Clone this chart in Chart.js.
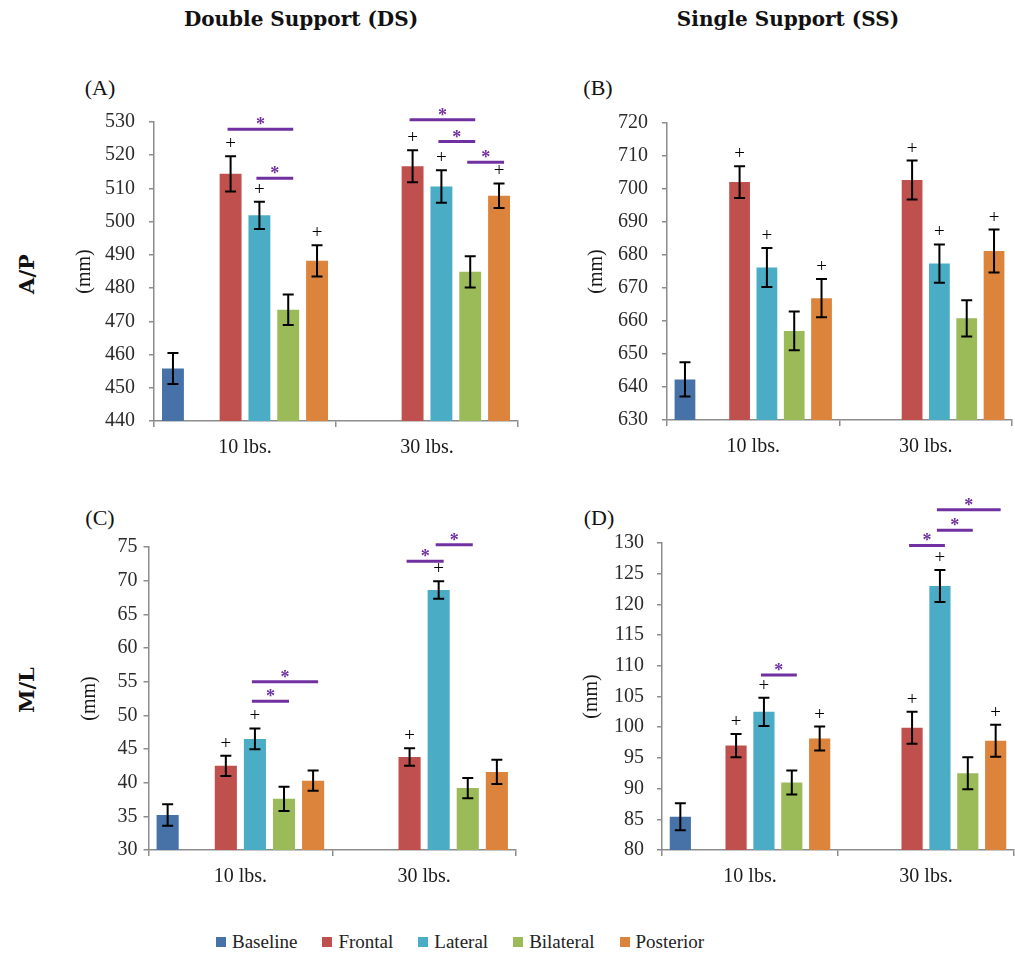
<!DOCTYPE html>
<html>
<head>
<meta charset="utf-8">
<script src="https://cdn.jsdelivr.net/npm/chart.js@4.4.0/dist/chart.umd.min.js"></script>
<style>
  body { margin: 0; background: #fff; width: 1015px; height: 954px; position: relative; overflow: hidden; }
  canvas { position: absolute; }
  .lbl { position: absolute; transform: translate(-50%, -50%); white-space: nowrap; color: #111; }
  .title { font: bold 20px "DejaVu Serif", serif; }
  .row { font: bold 21px "DejaVu Serif", serif; transform: translate(-50%, -50%) rotate(-90deg); }
  .panel { font: 22px "Liberation Serif", serif; }
  #legend { position: absolute; left: 216px; top: 931px; display: flex; align-items: center; gap: 25px;
            font: 19px "Liberation Serif", serif; color: #222; }
  #legend span { display: flex; align-items: center; gap: 6px; }
  #legend i { display: inline-block; width: 10px; height: 10px; }
</style>
</head>
<body>
<div class="lbl title" style="left:301px;top:19px">Double Support (DS)</div>
<div class="lbl title" style="left:788px;top:19px">Single Support (SS)</div>
<div class="lbl row" style="left:26px;top:274px">A/P</div>
<div class="lbl row" style="left:26px;top:690px">M/L</div>
<div class="lbl panel" style="left:100px;top:88px">(A)</div>
<div class="lbl panel" style="left:598px;top:88px">(B)</div>
<div class="lbl panel" style="left:100px;top:518px">(C)</div>
<div class="lbl panel" style="left:599px;top:518px">(D)</div>

<canvas id="chartA"></canvas>
<canvas id="chartB"></canvas>
<canvas id="chartC"></canvas>
<canvas id="chartD"></canvas>
<div id="legend"></div>

<script>
// Данные: для каждой серии [10 lbs., 30 lbs.]
const categories = ['10 lbs.', '30 lbs.'];
const seriesNames = ['Baseline', 'Frontal', 'Lateral', 'Bilateral', 'Posterior'];
const seriesColors = ['#4672A8', '#C0504D', '#4BACC6', '#9BBB59', '#DD843C'];

// (A) DS, A/P
const dsApMeans = [[455.8, null], [514.4, 516.7], [501.9, 510.6], [473.5, 484.9], [488.2, 507.8]];
const dsApErrors = [[4.7, null], [5.3, 4.8], [4.1, 4.9], [4.6, 4.7], [4.7, 3.7]];
const dsApPlus = [[0, 1], [0, 2], [0, 4], [1, 1], [1, 2], [1, 4]];
const dsApStars = [[0, 1, 3, 527.8], [0, 2, 3, 513.1], [1, 1, 3, 530.7], [1, 2, 3, 524.1], [1, 3, 4, 517.9]];

// (B) SS, A/P
const ssApMeans = [[642.3, null], [702.1, 702.7], [676.2, 677.4], [657.0, 660.8], [666.9, 681.2]];
const ssApErrors = [[5.2, null], [4.8, 5.9], [5.9, 5.8], [5.9, 5.5], [5.8, 6.5]];
const ssApPlus = [[0, 1], [0, 2], [0, 4], [1, 1], [1, 2], [1, 4]];
const ssApStars = [];

// (C) DS, M/L
const dsMlMeans = [[35.2, null], [42.5, 43.8], [46.5, 68.6], [37.6, 39.2], [40.3, 41.6]];
const dsMlErrors = [[1.6, null], [1.5, 1.3], [1.55, 1.3], [1.8, 1.5], [1.5, 1.8]];
const dsMlPlus = [[0, 1], [0, 2], [1, 1], [1, 2]];
const dsMlStars = [[0, 2, 4, 55.0], [0, 2, 3, 52.1], [1, 1, 2, 72.9], [1, 2, 3, 75.35]];

// (D) SS, M/L
const ssMlMeans = [[85.4, null], [97.0, 99.9], [102.5, 123.0], [91.0, 92.5], [98.15, 97.8]];
const ssMlErrors = [[2.2, null], [1.9, 2.6], [2.3, 2.6], [1.95, 2.6], [1.95, 2.6]];
const ssMlPlus = [[0, 1], [0, 2], [0, 4], [1, 1], [1, 2], [1, 4]];
const ssMlStars = [[0, 2, 3, 108.5], [1, 1, 2, 129.6], [1, 2, 3, 132.06], [1, 2, 4, 135.4]];

const SERIF = '"Liberation Serif", serif';
const AXIS_COLOR = '#8c8c8c';
const STAR_COLOR = '#7030A0';

// серия -> индекс датасета (после Baseline стоит пустой датасет-разделитель)
const dsIndex = s => (s === 0 ? 0 : s + 1);

function marksPlugin(p) {
    return {
        id: 'marks',
        afterDatasetsDraw(chart) {
            const ctx = chart.ctx;
            const y = chart.scales.y;
            const barX = (c, s) => chart.getDatasetMeta(dsIndex(s)).data[c].x;
            ctx.save();

            // Error bars
            ctx.strokeStyle = '#000';
            ctx.lineWidth = 2;
            p.means.forEach((row, s) => {
                row.forEach((v, c) => {
                    if (v === null) return;
                    const x = barX(c, s);
                    const hi = y.getPixelForValue(v + p.errors[s][c]);
                    const lo = y.getPixelForValue(v - p.errors[s][c]);
                    ctx.beginPath();
                    ctx.moveTo(x, hi); ctx.lineTo(x, lo);
                    ctx.moveTo(x - 5.5, hi); ctx.lineTo(x + 5.5, hi);
                    ctx.moveTo(x - 5.5, lo); ctx.lineTo(x + 5.5, lo);
                    ctx.stroke();
                });
            });

            // "+" над столбцами
            ctx.fillStyle = '#000';
            ctx.font = '19px ' + SERIF;
            ctx.textAlign = 'center';
            ctx.textBaseline = 'middle';
            p.plus.forEach(([c, s]) => {
                const top = y.getPixelForValue(p.means[s][c] + p.errors[s][c]);
                ctx.fillText('+', barX(c, s), top - 12);
            });

            // Significance lines with stars
            ctx.strokeStyle = STAR_COLOR;
            ctx.fillStyle = STAR_COLOR;
            ctx.lineWidth = 3;
            ctx.font = 'bold 18px ' + SERIF;
            ctx.textBaseline = 'alphabetic';
            p.stars.forEach(([c, a, b, level]) => {
                const x0 = barX(c, a) - 3;
                const x1 = barX(c, b) + 5;
                const ly = y.getPixelForValue(level);
                ctx.beginPath();
                ctx.moveTo(x0, ly); ctx.lineTo(x1, ly);
                ctx.stroke();
                ctx.fillText('*', (x0 + x1) / 2, ly + 1);
            });
            ctx.restore();
        }
    };
}

function createPanel(canvasId, p, box) {
    const PL = 2, PR = 1, PT = 60, XH = 45, PB = 4;
    const yw = box.titleGap + 16;
    const cx = box.left - yw - PL;
    const cy = box.top - PT;
    const cw = box.right + PR - cx;
    const ch = box.bottom + XH + PB - cy;

    const canvas = document.getElementById(canvasId);
    canvas.width = cw;
    canvas.height = ch;
    canvas.style.left = cx + 'px';
    canvas.style.top = cy + 'px';

    const datasets = [];
    p.means.forEach((row, s) => {
        datasets.push({ label: seriesNames[s], data: row, backgroundColor: seriesColors[s] });
        if (s === 0) datasets.push({ label: '', data: [null, null], backgroundColor: 'rgba(0,0,0,0)' });
    });

    return new Chart(canvas, {
        type: 'bar',
        data: { labels: categories, datasets },
        options: {
            responsive: false,
            animation: false,
            events: [],
            barPercentage: 0.76,
            categoryPercentage: 0.95,
            layout: { padding: { left: PL, right: PR, top: PT, bottom: PB } },
            plugins: { legend: { display: false }, tooltip: { enabled: false } },
            scales: {
                x: {
                    grid: { drawOnChartArea: false, drawTicks: true, tickLength: 6, color: AXIS_COLOR, lineWidth: 1.5 },
                    border: { color: AXIS_COLOR, width: 1.5 },
                    ticks: { font: { family: SERIF, size: 20 }, color: '#1a1a1a', padding: 9 },
                    afterFit: s => { s.height = XH; }
                },
                y: {
                    min: p.min, max: p.max,
                    grid: { drawOnChartArea: false, drawTicks: true, tickLength: 5, color: AXIS_COLOR, lineWidth: 1.5 },
                    border: { color: AXIS_COLOR, width: 1.5 },
                    ticks: { stepSize: p.step, font: { family: SERIF, size: 20 }, color: '#2b2b2b', padding: box.tickPad },
                    title: { display: true, text: '(mm)', font: { family: SERIF, size: 20 }, color: '#1a1a1a' },
                    afterFit: s => { s.width = yw; }
                }
            }
        },
        plugins: [marksPlugin(p)]
    });
}

createPanel('chartA',
    { means: dsApMeans, errors: dsApErrors, plus: dsApPlus, stars: dsApStars, min: 440, max: 530, step: 10 },
    { left: 154, right: 518.5, top: 121.7, bottom: 421, titleGap: 69, tickPad: 14 });
createPanel('chartB',
    { means: ssApMeans, errors: ssApErrors, plus: ssApPlus, stars: ssApStars, min: 630, max: 720, step: 10 },
    { left: 667.3, right: 1013, top: 123.3, bottom: 421, titleGap: 70, tickPad: 14 });
createPanel('chartC',
    { means: dsMlMeans, errors: dsMlErrors, plus: dsMlPlus, stars: dsMlStars, min: 30, max: 75, step: 5 },
    { left: 148.5, right: 516, top: 547.3, bottom: 851, titleGap: 58.5, tickPad: 6 });
createPanel('chartD',
    { means: ssMlMeans, errors: ssMlErrors, plus: ssMlPlus, stars: ssMlStars, min: 80, max: 130, step: 5 },
    { left: 661.7, right: 1014, top: 543.3, bottom: 851, titleGap: 70, tickPad: 13 });

// Общая легенда
const legend = document.getElementById('legend');
seriesNames.forEach((name, i) => {
    const item = document.createElement('span');
    item.innerHTML = `<i style="background:${seriesColors[i]}"></i>${name}`;
    legend.appendChild(item);
});
</script>
</body>
</html>
